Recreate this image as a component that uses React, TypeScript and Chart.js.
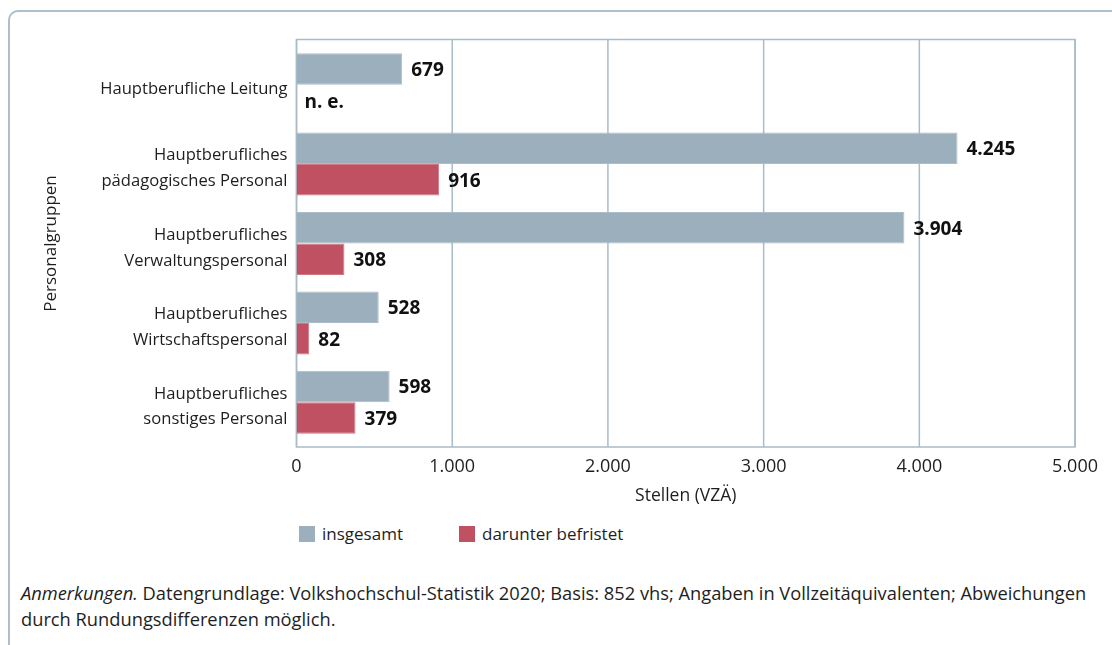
import React, { useEffect, useRef } from "react";
import { Chart, registerables } from "chart.js";

Chart.register(...registerables);

// ---- data ----
const categories: string[][] = [
  ["Hauptberufliche Leitung"],
  ["Hauptberufliches", "pädagogisches Personal"],
  ["Hauptberufliches", "Verwaltungspersonal"],
  ["Hauptberufliches", "Wirtschaftspersonal"],
  ["Hauptberufliches", "sonstiges Personal"],
];
const insgesamt: number[] = [679, 4245, 3904, 528, 598];
const befristet: (number | null)[] = [null, 916, 308, 82, 379];
const seriesNames: string[] = ["insgesamt", "darunter befristet"];
const xTickValues: number[] = [0, 1000, 2000, 3000, 4000, 5000];
const missingLabel = "n. e.";
const xTitle = "Stellen (VZÄ)";
const yTitle = "Personalgruppen";
const noteItalic = "Anmerkungen.";
const noteLine1 =
  " Datengrundlage: Volkshochschul-Statistik 2020; Basis: 852 vhs; Angaben in Vollzeitäquivalenten; Abweichungen";
const noteLine2 = "durch Rundungsdifferenzen möglich.";

// ---- styles ----
const FONT = "'Open Sans', sans-serif";
const GRAY = "#9bb0bc";
const RED = "#c05162";
const GRID = "#a9bcc7";
const TEXT = "#1e1e1e";

const fmt = (v: number) => String(v).replace(/\B(?=(\d{3})+(?!\d))/g, ".");

const frameGridPlugin = {
  id: "frameGrid",
  beforeDatasetsDraw(chart: any) {
    const { ctx, chartArea: a, scales } = chart;
    const xs = scales.x;
    const top = a.top - 5.5;
    const bottom = a.bottom + 5;
    ctx.save();
    ctx.strokeStyle = GRID;
    ctx.lineWidth = 1.5;
    xTickValues.forEach((v) => {
      const px = xs.getPixelForValue(v);
      ctx.beginPath();
      ctx.moveTo(px, top);
      ctx.lineTo(px, bottom);
      ctx.stroke();
    });
    ctx.strokeRect(a.left, top, a.right - a.left, bottom - top);
    ctx.restore();
  },
};

const valueLabelPlugin = {
  id: "valueLabels",
  afterDatasetsDraw(chart: any) {
    const { ctx, scales } = chart;
    const zeroX = scales.x.getPixelForValue(0);
    ctx.save();
    ctx.font = `bold 19px ${FONT}`;
    ctx.fillStyle = "#111111";
    ctx.textBaseline = "middle";
    ctx.textAlign = "left";
    chart.data.datasets.forEach((ds: any, di: number) => {
      const meta = chart.getDatasetMeta(di);
      meta.data.forEach((el: any, i: number) => {
        const v = ds.data[i];
        if (v === null || v === undefined) {
          ctx.fillText(missingLabel, zeroX + 8, el.y + 2.5);
        } else {
          ctx.fillText(fmt(v), el.x + 9, el.y + 1.5);
        }
      });
    });
    ctx.restore();
  },
};

export default function App() {
  const canvasRef = useRef<HTMLCanvasElement | null>(null);

  useEffect(() => {
    if (!canvasRef.current) return;
    Chart.defaults.font.family = FONT;
    const chart = new Chart(canvasRef.current, {
      type: "bar",
      data: {
        labels: categories as any,
        datasets: [
          {
            label: seriesNames[0],
            data: insgesamt,
            backgroundColor: GRAY,
            borderColor: "#aabcc7",
            borderWidth: 1,
            categoryPercentage: 0.794,
            barPercentage: 1,
          },
          {
            label: seriesNames[1],
            data: befristet as any,
            backgroundColor: RED,
            borderColor: "#cf7884",
            borderWidth: 1,
            categoryPercentage: 0.794,
            barPercentage: 1,
          },
        ],
      },
      options: {
        indexAxis: "y",
        responsive: false,
        animation: false,
        layout: { padding: { left: 37, top: 45, right: 36, bottom: 0 } },
        plugins: {
          legend: { display: false },
          tooltip: { enabled: false },
        },
        scales: {
          x: {
            type: "linear",
            min: 0,
            max: 5000,
            grid: { display: false, drawTicks: false },
            border: { display: false },
            ticks: {
              stepSize: 1000,
              padding: 14,
              color: TEXT,
              font: { size: 18 },
              callback: (v: any) => fmt(Number(v)),
            },
            title: {
              display: true,
              text: xTitle,
              color: TEXT,
              font: { size: 17.5 },
              padding: { top: 4, bottom: 13 },
            },
            afterFit: (s: any) => {
              s.height = 78;
            },
          },
          y: {
            grid: { display: false, drawTicks: false },
            border: { display: false },
            ticks: {
              padding: 9,
              labelOffset: 4.5,
              color: TEXT,
              font: { size: 16.6, lineHeight: 1.55 },
            },
            title: {
              display: true,
              text: yTitle,
              color: TEXT,
              font: { size: 17 },
              padding: { top: 4, bottom: 4 },
            },
            afterFit: (s: any) => {
              s.width = 259.5;
            },
          },
        },
      },
      plugins: [frameGridPlugin, valueLabelPlugin],
    });
    return () => chart.destroy();
  }, []);

  const legendItem = (color: string, label: string, left: number, textLeft: number) => (
    <>
      <div
        style={{
          position: "absolute",
          left,
          top: 526,
          width: 16,
          height: 16,
          background: color,
        }}
      />
      <div
        style={{
          position: "absolute",
          left: textLeft,
          top: 521,
          height: 26,
          lineHeight: "26px",
          fontSize: 17,
          fontFamily: FONT,
          color: TEXT,
          whiteSpace: "nowrap",
        }}
      >
        {label}
      </div>
    </>
  );

  return (
    <div
      style={{
        position: "fixed",
        left: 0,
        top: 0,
        width: 1112,
        height: 645,
        overflow: "hidden",
        background: "#ffffff",
      }}
    >
      <div
        style={{
          position: "absolute",
          left: 8,
          top: 10,
          right: -4,
          bottom: -10,
          borderTop: "2px solid #adbfca",
          borderLeft: "2px solid #adbfca",
          borderTopLeftRadius: 10,
        }}
      />
      <canvas
        ref={canvasRef}
        width={1112}
        height={520}
        style={{ position: "absolute", left: 0, top: 0, width: 1112, height: 520 }}
      />
      {legendItem(GRAY, seriesNames[0], 299, 322)}
      {legendItem(RED, seriesNames[1], 459, 482)}
      <div
        style={{
          position: "absolute",
          left: 21,
          top: 580,
          fontSize: 18.3,
          lineHeight: "26px",
          fontFamily: FONT,
          color: TEXT,
          whiteSpace: "nowrap",
        }}
      >
        <span style={{ fontStyle: "italic" }}>{noteItalic}</span>
        {noteLine1}
        <br />
        {noteLine2}
      </div>
    </div>
  );
}
